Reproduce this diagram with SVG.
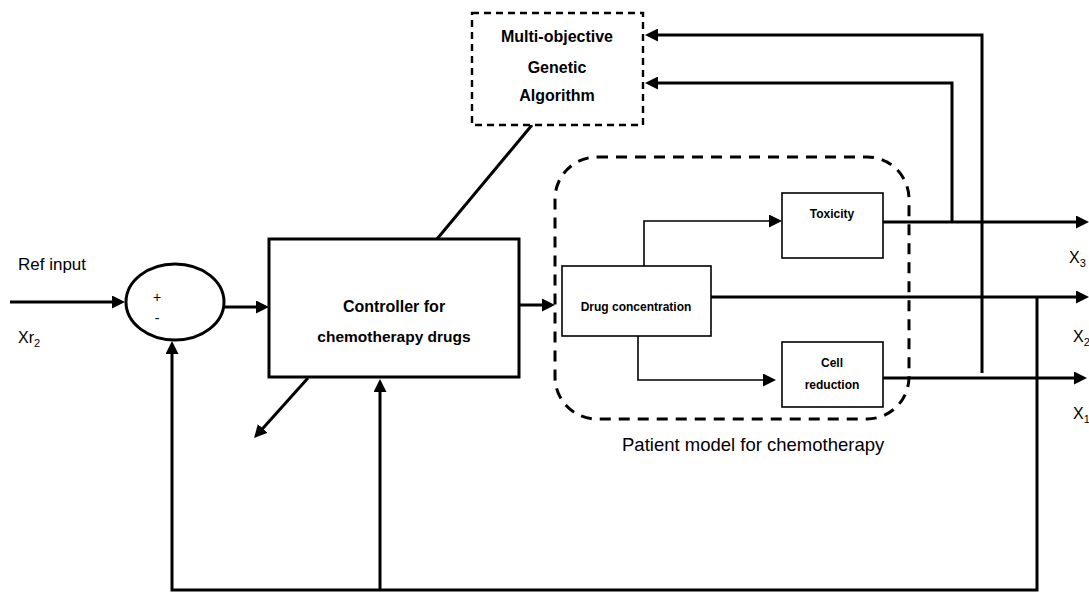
<svg xmlns="http://www.w3.org/2000/svg" width="1089" height="592" viewBox="0 0 1089 592">
  <style>
    text { font-family: "Liberation Sans", Arial, sans-serif; fill: #000; }
    .b { font-weight: bold; }
    .box { fill: #fff; stroke: #000; }
    .thick { fill: none; stroke: #000; stroke-width: 3; }
    .thin { fill: none; stroke: #000; stroke-width: 1.6; }
    .dash-ga { fill: #fff; stroke: #000; stroke-width: 2.4; stroke-dasharray: 7 5; }
    .dash-pm { fill: none; stroke: #000; stroke-width: 3; stroke-dasharray: 11 8; }
  </style>
  <defs>
    <marker id="arrow" markerUnits="userSpaceOnUse" markerWidth="13" markerHeight="13" refX="2" refY="6.5" orient="auto">
      <path d="M0,0 L13,6.5 L0,13 Z" fill="#000"/>
    </marker>
  </defs>

  <!-- patient model boundary (drawn first so blocks sit on top) -->
  <g id="patient-model">
    <rect class="dash-pm" x="555" y="157" width="354" height="262" rx="42" ry="42"/>
    <text x="622" y="451" font-size="18.5">Patient model for  chemotherapy</text>
  </g>

  <!-- connectors -->
  <g id="connectors">
    <!-- reference input into summing junction -->
    <line class="thick" x1="10" y1="302" x2="114" y2="302" marker-end="url(#arrow)"/>
    <!-- error to controller -->
    <line class="thick" x1="224" y1="307" x2="258" y2="307" marker-end="url(#arrow)"/>
    <!-- controller to patient model -->
    <line class="thick" x1="519" y1="305" x2="544" y2="305" marker-end="url(#arrow)"/>
    <!-- drug concentration to toxicity / cell reduction -->
    <path class="thin" d="M644,266 V221 H771" marker-end="url(#arrow)"/>
    <path class="thin" d="M638,336 V380 H765" marker-end="url(#arrow)"/>
    <!-- outputs X3, X2, X1 -->
    <line class="thick" x1="883" y1="222" x2="1078" y2="222" marker-end="url(#arrow)"/>
    <line class="thick" x1="711" y1="297" x2="1078" y2="297" marker-end="url(#arrow)"/>
    <line class="thick" x1="883" y1="378" x2="1076" y2="378" marker-end="url(#arrow)"/>
    <!-- feedback to optimiser -->
    <path class="thick" d="M952,222 V83 H656" marker-end="url(#arrow)"/>
    <path class="thick" d="M982,373 V35 H656" marker-end="url(#arrow)"/>
    <!-- main feedback loop -->
    <path class="thick" d="M1037,297 V590 H172 V352" marker-end="url(#arrow)"/>
    <line class="thick" x1="380" y1="590" x2="380" y2="390" marker-end="url(#arrow)"/>
    <!-- optimiser link to controller -->
    <line class="thick" x1="437" y1="239" x2="532" y2="125"/>
    <!-- controller output leg -->
    <line class="thick" x1="308" y1="378" x2="261.4" y2="429.9" marker-end="url(#arrow)"/>
  </g>

  <g id="ref-labels">
    <text x="18" y="270" font-size="17">Ref input</text>
    <text x="18" y="343" font-size="16">Xr<tspan font-size="11" dy="4">2</tspan></text>
  </g>

  <g id="summing-junction">
    <ellipse class="box" cx="175" cy="302" rx="49" ry="38" stroke-width="3"/>
    <text x="157" y="302" font-size="14" text-anchor="middle">+</text>
    <text x="157" y="323" font-size="14" text-anchor="middle">-</text>
  </g>

  <g id="controller">
    <rect class="box" x="269" y="239" width="250" height="138" stroke-width="3"/>
    <text class="b" x="394" y="312" font-size="16" text-anchor="middle">Controller for</text>
    <text class="b" x="394" y="342" font-size="15.5" text-anchor="middle">chemotherapy drugs</text>
  </g>

  <g id="genetic-algorithm">
    <rect class="dash-ga" x="472" y="13" width="171" height="112"/>
    <text class="b" x="557" y="42" font-size="16" text-anchor="middle">Multi-objective</text>
    <text class="b" x="557" y="73" font-size="16" text-anchor="middle">Genetic</text>
    <text class="b" x="557" y="101" font-size="16" text-anchor="middle">Algorithm</text>
  </g>

  <g id="drug-concentration">
    <rect class="box" x="562" y="266" width="149" height="70" stroke-width="1.6"/>
    <text class="b" x="636" y="311" font-size="12" text-anchor="middle">Drug concentration</text>
  </g>

  <g id="toxicity">
    <rect class="box" x="782" y="193" width="101" height="65" stroke-width="1.6"/>
    <text class="b" x="832" y="218" font-size="12" text-anchor="middle">Toxicity</text>
  </g>

  <g id="cell-reduction">
    <rect class="box" x="782" y="342" width="101" height="65" stroke-width="1.6"/>
    <text class="b" x="832" y="367" font-size="12" text-anchor="middle">Cell</text>
    <text class="b" x="832" y="389" font-size="12" text-anchor="middle">reduction</text>
  </g>

  <g id="output-labels">
    <text x="1069" y="263" font-size="16">X<tspan font-size="11" dy="4">3</tspan></text>
    <text x="1073" y="342" font-size="16">X<tspan font-size="11" dy="4">2</tspan></text>
    <text x="1073" y="419" font-size="16">X<tspan font-size="11" dy="4">1</tspan></text>
  </g>
</svg>
